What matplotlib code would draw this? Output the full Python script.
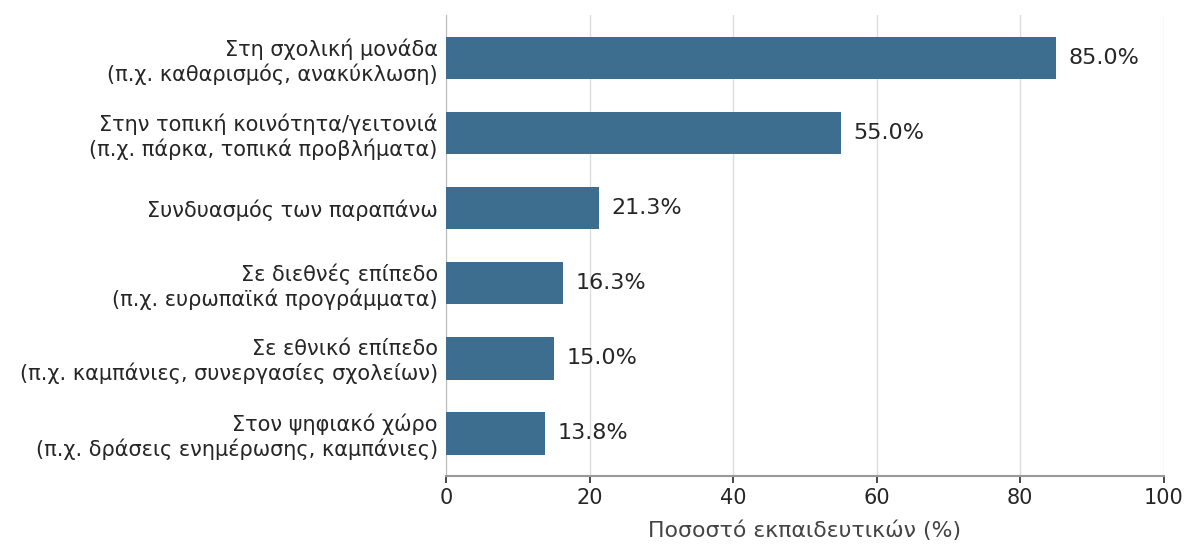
import matplotlib
matplotlib.use('Agg')
from matplotlib import pyplot as plt

# data
labels = [
	'Στη σχολική μονάδα\n(π.χ. καθαρισμός, ανακύκλωση)',
	'Στην τοπική κοινότητα/γειτονιά\n(π.χ. πάρκα, τοπικά προβλήματα)',
	'Συνδυασμός των παραπάνω',
	'Σε διεθνές επίπεδο\n(π.χ. ευρωπαϊκά προγράμματα)',
	'Σε εθνικό επίπεδο\n(π.χ. καμπάνιες, συνεργασίες σχολείων)',
	'Στον ψηφιακό χώρο\n(π.χ. δράσεις ενημέρωσης, καμπάνιες)',
]
values = [85.0, 55.0, 21.3, 16.3, 15.0, 13.8]
xticks = [0, 20, 40, 60, 80, 100]

BAR = '#3d6e8f'
TXT = '#262626'

fig = plt.figure(figsize=(12, 5.6), dpi=100)
ax = fig.add_axes([0.3717, 0.15, 0.598, 0.823])

pos = list(range(len(values)))[::-1]
ax.barh(pos, values, height=0.57, color=BAR, zorder=3)
for p, v in zip(pos, values):
	ax.text(v + 1.8, p, f'{v:.1f}%', va='center', ha='left', fontsize=16, color=TXT)

ax.set_yticks(pos)
ax.set_yticklabels(labels, fontsize=15, color=TXT)
ax.set_xlim(0, 100)
ax.set_ylim(-0.57, 5.57)
ax.set_xticks(xticks)
ax.set_xticklabels([str(t) for t in xticks], fontsize=15, color=TXT)
ax.set_xlabel('Ποσοστό εκπαιδευτικών (%)', fontsize=15.8, color='#444444', labelpad=9)

ax.grid(axis='x', color='#dddddd', linewidth=1, zorder=0)
ax.tick_params(axis='y', length=0, pad=6)
ax.tick_params(axis='x', length=5, width=1.2, color=TXT)
for s in ['top', 'right']:
	ax.spines[s].set_visible(False)
ax.spines['left'].set_color('#bbbbbb')
ax.spines['bottom'].set_color('#999999')
ax.spines['bottom'].set_linewidth(1.5)

fig.savefig('out.png', dpi=100)
